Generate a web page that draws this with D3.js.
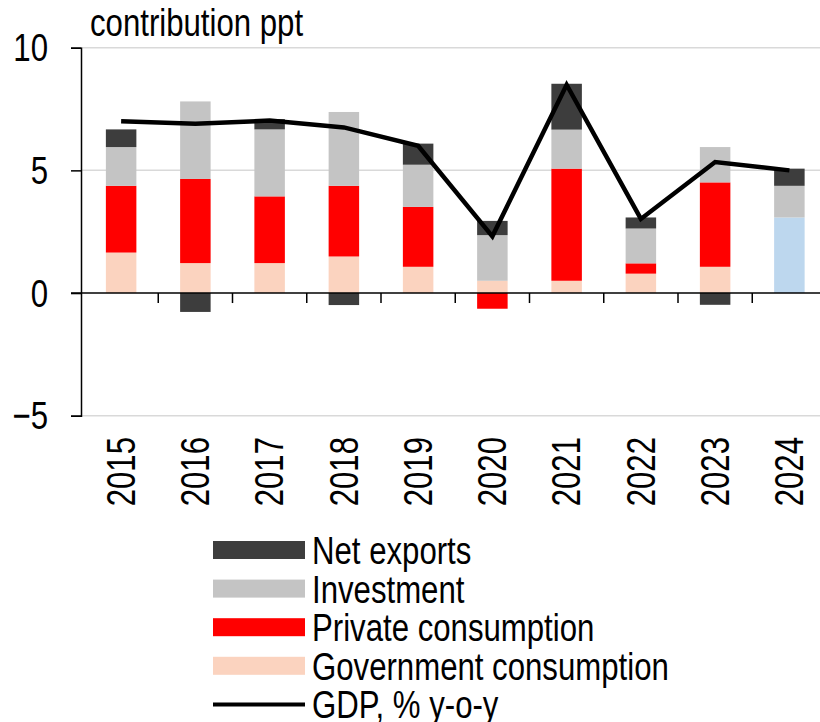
<!DOCTYPE html>
<html>
<head>
<meta charset="utf-8">
<script src="https://cdn.jsdelivr.net/npm/d3@7"></script>
<style>
  html, body { margin: 0; padding: 0; background: #ffffff; }
  svg { display: block; }
  text { font-family: "Liberation Sans", Arial, sans-serif; fill: #000; }
</style>
</head>
<body>
<svg id="chart" width="820" height="722"></svg>
<script>
// GDP growth decomposition, contributions in percentage points
const years = ["2015", "2016", "2017", "2018", "2019", "2020", "2021", "2022", "2023", "2024"];
const totalConsumption = [0, 0, 0, 0, 0, 0, 0, 0, 0, 3.08];
const governmentConsumption = [1.65, 1.22, 1.22, 1.49, 1.07, 0.50, 0.50, 0.79, 1.07, 0];
const privateConsumption = [2.72, 3.43, 2.72, 2.88, 2.44, -0.64, 4.57, 0.42, 3.44, 0];
const investment = [1.58, 3.16, 2.73, 3.01, 1.72, 1.86, 1.59, 1.42, 1.44, 1.29];
const netExports = [0.72, -0.77, 0.42, -0.49, 0.86, 0.58, 1.87, 0.45, -0.48, 0.70];
const gdp = [7.00, 6.90, 7.03, 6.75, 6.00, 2.31, 8.49, 3.02, 5.34, 5.00];
const yTicks = [-5, 0, 5, 10];

const series = [
  { key: "total", name: "Total consumption", values: totalConsumption, color: "#bdd7ee", legend: false },
  { key: "gov", name: "Government consumption", values: governmentConsumption, color: "#fbd3bf", legend: true },
  { key: "priv", name: "Private consumption", values: privateConsumption, color: "#ff0000", legend: true },
  { key: "inv", name: "Investment", values: investment, color: "#c4c4c4", legend: true },
  { key: "net", name: "Net exports", values: netExports, color: "#3d3d3d", legend: true }
];

const rows = years.map((y, i) => {
  const r = { year: y };
  series.forEach(s => { r[s.key] = s.values[i]; });
  return r;
});

const svg = d3.select("#chart");
const FONT = 38;

// condensed lettering: squeeze each text along its own direction
function narrow(sel, k = 0.82) {
  sel.each(function () {
    const w = this.getComputedTextLength();
    d3.select(this).attr("textLength", w * k).attr("lengthAdjust", "spacingAndGlyphs");
  });
}

const plotLeft = 81, plotRight = 820;
const x = d3.scaleBand().domain(years).range([84, 826.5]).padding(0);
const y = d3.scaleLinear().domain([-5, 10]).range([415.7, 47.7]);
const barW = 30.5;
const barX = d => x(d) + (x.bandwidth() - barW) / 2;
const cx = d => x(d) + x.bandwidth() / 2;

// horizontal gridlines
svg.append("g")
  .selectAll("line")
  .data(yTicks.filter(t => t !== 0))
  .join("line")
  .attr("x1", plotLeft).attr("x2", plotRight)
  .attr("y1", d => y(d)).attr("y2", d => y(d))
  .attr("stroke", "#d9d9d9").attr("stroke-width", 1.5);

// stacked bars, positives up and negatives down from zero
const stack = d3.stack().keys(series.map(s => s.key)).offset(d3.stackOffsetDiverging);
const layers = stack(rows);
svg.append("g")
  .selectAll("g")
  .data(layers)
  .join("g")
  .attr("fill", (d, i) => series[i].color)
  .selectAll("rect")
  .data(d => d.filter(p => p[1] - p[0] !== 0))
  .join("rect")
  .attr("x", p => barX(p.data.year))
  .attr("width", barW)
  .attr("y", p => y(Math.max(p[0], p[1])))
  .attr("height", p => Math.abs(y(p[0]) - y(p[1])));

// y axis
const yAxis = d3.axisLeft(y).tickValues(yTicks).tickSize(10).tickPadding(23).tickFormat(d3.format("d"));
const gy = svg.append("g").attr("transform", `translate(${plotLeft},0)`).call(yAxis);
gy.select(".domain").attr("stroke", "#000").attr("stroke-width", 1.5);
gy.selectAll(".tick line").attr("stroke", "#000").attr("stroke-width", 1.5);
gy.selectAll(".tick text").attr("font-size", 39).attr("font-family", null).attr("dy", "0.34em").call(narrow, 0.8);

// zero line and category separator ticks
svg.append("line")
  .attr("x1", plotLeft - 10).attr("x2", plotRight)
  .attr("y1", y(0)).attr("y2", y(0))
  .attr("stroke", "#000").attr("stroke-width", 1.5);
svg.append("g")
  .selectAll("line")
  .data(years.slice(1))
  .join("line")
  .attr("x1", d => x(d)).attr("x2", d => x(d))
  .attr("y1", y(0)).attr("y2", y(0) + 10)
  .attr("stroke", "#000").attr("stroke-width", 1.5);

// GDP line
svg.append("path")
  .datum(years.map((yr, i) => [yr, gdp[i]]))
  .attr("fill", "none")
  .attr("stroke", "#000")
  .attr("stroke-width", 4.5)
  .attr("stroke-linejoin", "miter")
  .attr("d", d3.line().x(d => cx(d[0])).y(d => y(d[1])));

// year labels, rotated
svg.append("g")
  .selectAll("text")
  .data(years)
  .join("text")
  .attr("transform", d => `translate(${cx(d) - 1},437) rotate(-90)`)
  .attr("text-anchor", "end")
  .attr("dy", "0.36em")
  .attr("font-size", 41)
  .text(d => d)
  .call(narrow, 0.76);

// unit label
svg.append("text")
  .attr("x", 90).attr("y", 36)
  .attr("font-size", FONT)
  .text("contribution ppt")
  .call(narrow);

// legend
const legendItems = series.filter(s => s.legend).reverse()
  .map(s => ({ name: s.name, color: s.color, type: "bar" }))
  .concat([{ name: "GDP, % y-o-y", color: "#000", type: "line" }]);
const lg = svg.append("g").attr("transform", "translate(213,550)");
const item = lg.selectAll("g")
  .data(legendItems)
  .join("g")
  .attr("transform", (d, i) => `translate(0,${i * 38.6})`);
item.filter(d => d.type === "bar").append("rect")
  .attr("x", 0).attr("y", -9).attr("width", 92).attr("height", 18)
  .attr("fill", d => d.color);
item.filter(d => d.type === "line").append("line")
  .attr("x1", 0).attr("x2", 92).attr("y1", 0).attr("y2", 0)
  .attr("stroke", d => d.color).attr("stroke-width", 4);
item.append("text")
  .attr("x", 99).attr("y", 14)
  .attr("font-size", FONT)
  .text(d => d.name)
  .call(narrow);
</script>
</body>
</html>
